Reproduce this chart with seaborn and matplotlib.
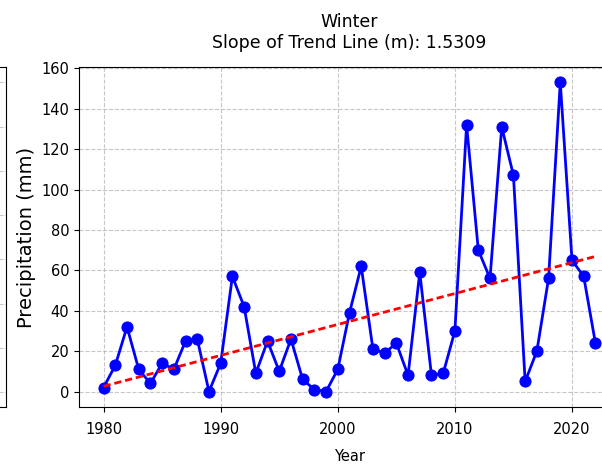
import numpy as np
import pandas as pd
import matplotlib
matplotlib.use("Agg")
import matplotlib.pyplot as plt
import seaborn as sns

# Winter precipitation totals per year (mm)
years = list(range(1980, 2023))
precip_mm = [
    2, 13, 32, 11, 4, 14, 11, 25, 26, 0,
    14, 57, 42, 9, 25, 10, 26, 6, 1, 0,
    11, 39, 62, 21, 19, 24, 8, 59, 8, 9,
    30, 132, 70, 56, 131, 107, 5, 20, 56, 153,
    65, 57, 24,
]
season = "Winter"
slope_m = 1.5309
x_ticks = [1980, 1990, 2000, 2010, 2020]
y_ticks = [0, 20, 40, 60, 80, 100, 120, 140, 160]

df = pd.DataFrame({"Year": years, "Precipitation": precip_mm})

# Least-squares line with the reported slope passes through the data centroid
x_arr = np.array(years, dtype=float)
y_arr = np.array(precip_mm, dtype=float)
intercept = y_arr.mean() - slope_m * x_arr.mean()
df["Trend"] = slope_m * x_arr + intercept

W, H = 602, 467
fig = plt.figure(figsize=(W / 100, H / 100), dpi=100)

# Neighbouring panel (only its right edge falls inside the figure)
ax_prev = fig.add_axes([6 / W - 0.6, 60 / H, 0.6, 340 / H])
ax_prev.set_ylim(-0.34, 7.35)
ax_prev.set_yticks(range(0, 8))
ax_prev.set_xticks([])
ax_prev.set_yticklabels([])
ax_prev.grid(True, axis="y", linestyle="--", color="#b0b0b0", alpha=0.7, linewidth=0.8)

# Main panel
ax = fig.add_axes([79 / W, 60 / H, (620 - 79) / W, 340 / H])
sns.lineplot(data=df, x="Year", y="Precipitation", ax=ax, color="blue",
             marker="o", markersize=8, markeredgecolor="blue", linewidth=2)
sns.lineplot(data=df, x="Year", y="Trend", ax=ax, color="red", linewidth=2)
ax.lines[-1].set_linestyle((0, (2.6, 1.4)))

ax.set_xlim(1977.9, 2024.1)
ax.set_ylim(-7.65, 160.65)
ax.set_xticks(x_ticks)
ax.set_yticks(y_ticks)
ax.tick_params(labelsize=10.5)
ax.tick_params(axis="x", pad=7)
ax.grid(True, linestyle="--", color="#b0b0b0", alpha=0.7, linewidth=0.8)
ax.set_axisbelow(True)

ax.set_title(f"{season}\nSlope of Trend Line (m): {slope_m:.4f}", fontsize=12.5, pad=14)
ax.set_xlabel("Year", fontsize=10.5, labelpad=9)
ax.set_ylabel("Precipitation (mm)", fontsize=14)

fig.savefig("out.png", dpi=100)
